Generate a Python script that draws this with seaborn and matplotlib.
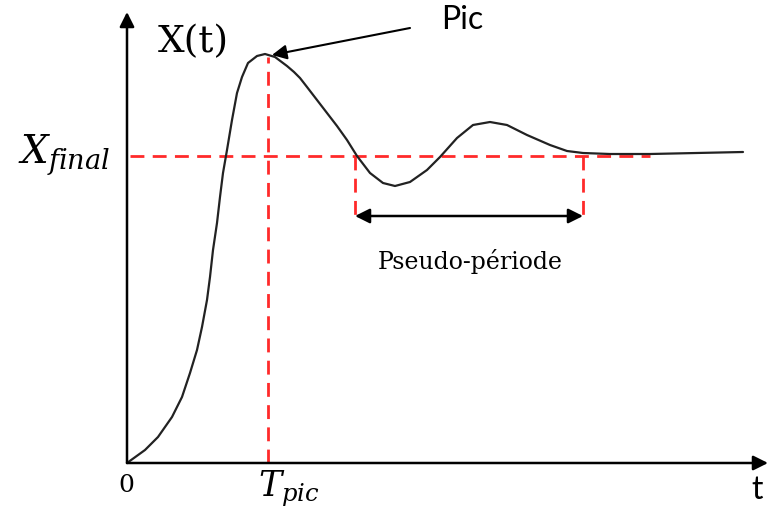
import numpy as np
import pandas as pd
import matplotlib
matplotlib.use("Agg")
import matplotlib.pyplot as plt
import seaborn as sns

# reponse indicielle (unites arbitraires)
temps = [0.00, 0.18, 0.31, 0.45, 0.55, 0.63, 0.70, 0.75, 0.80, 0.83, 0.86, 0.90,
         0.93, 0.96, 1.00, 1.05, 1.10, 1.15, 1.21, 1.30, 1.38, 1.48, 1.60, 1.67,
         1.73, 1.80, 1.90, 2.00, 2.10, 2.20, 2.30, 2.43, 2.56, 2.68, 2.83, 3.00,
         3.13, 3.30, 3.46, 3.63, 3.80, 4.00, 4.23, 4.40, 4.56, 4.83, 5.23, 6.16]
sortie = [0.00, 0.13, 0.26, 0.46, 0.66, 0.90, 1.13, 1.36, 1.63, 1.86, 2.13, 2.40,
          2.66, 2.90, 3.13, 3.43, 3.70, 3.86, 4.00, 4.07, 4.09, 4.06, 3.97, 3.91,
          3.85, 3.76, 3.63, 3.50, 3.37, 3.23, 3.07, 2.90, 2.80, 2.77, 2.81, 2.93,
          3.06, 3.25, 3.38, 3.41, 3.38, 3.28, 3.18, 3.12, 3.10, 3.09, 3.09, 3.11]

x_final = 3.07
t_pic = 1.41
pseudo_debut = 2.28
pseudo_fin = 4.56
fleche_y = 2.47

df = pd.DataFrame({'t': temps, 'x': sortie})

sns.set_theme(style="white")
plt.rcParams['mathtext.fontset'] = 'dejavuserif'
plt.rcParams['text.color'] = 'black'

fig = plt.figure(figsize=(7.68, 5.15), dpi=100)
ax = fig.add_axes([0, 0, 1, 1])
ax.set_xlim(-1.27, 6.41)
ax.set_ylim(-0.52, 4.63)

rouge = '#ff2a2a'
tirets = (0, (5, 3))

# pointilles rouges
ax.plot([0.03, 5.23], [x_final, x_final], color=rouge, lw=2, ls=tirets)
ax.plot([t_pic, t_pic], [0, 4.06], color=rouge, lw=2, ls=tirets)
ax.plot([pseudo_debut, pseudo_debut], [x_final, fleche_y], color=rouge, lw=2, ls=tirets)
ax.plot([pseudo_fin, pseudo_fin], [x_final, fleche_y], color=rouge, lw=2, ls=tirets)

# courbe
sns.lineplot(data=df, x='t', y='x', sort=False, color='#222222', lw=1.6, ax=ax,
             solid_joinstyle='round')
ax.axis('off')

# axes avec fleches
fleche = dict(arrowstyle='-|>', color='black', lw=1.8, mutation_scale=22, shrinkA=0, shrinkB=0)
ax.annotate('', xy=(0, 4.51), xytext=(0, 0), arrowprops=fleche)
ax.annotate('', xy=(6.41, 0), xytext=(0, 0), arrowprops=fleche)

# fleche pseudo-periode
ax.annotate('', xy=(pseudo_debut, fleche_y), xytext=(pseudo_fin, fleche_y),
            arrowprops=dict(arrowstyle='<|-|>', color='black', lw=1.8, mutation_scale=22,
                            shrinkA=0, shrinkB=0))

# fleche Pic
ax.annotate('', xy=(1.45, 4.08), xytext=(2.83, 4.35),
            arrowprops=dict(arrowstyle='-|>', color='black', lw=1.5, mutation_scale=22,
                            shrinkA=0, shrinkB=0))

# textes
ax.text(0.66, 4.21, 'X(t)', fontsize=27, family='DejaVu Serif', ha='center', va='center')
ax.text(3.35, 4.43, 'Pic', fontsize=23, family='Lato', ha='center', va='center')
ax.text(-0.63, 3.08, r'$X_{final}$', fontsize=28, ha='center', va='center')
ax.text(-0.01, -0.22, '0', fontsize=18, family='DejaVu Serif', ha='center', va='center')
ax.text(1.62, -0.26, r'$T_{pic}$', fontsize=25, ha='center', va='center')
ax.text(6.30, -0.27, 't', fontsize=23, family='Lato', ha='center', va='center')
ax.text(3.43, 2.01, 'Pseudo-période', fontsize=17, family='DejaVu Serif', ha='center', va='center')

plt.savefig('out.png', dpi=100)
